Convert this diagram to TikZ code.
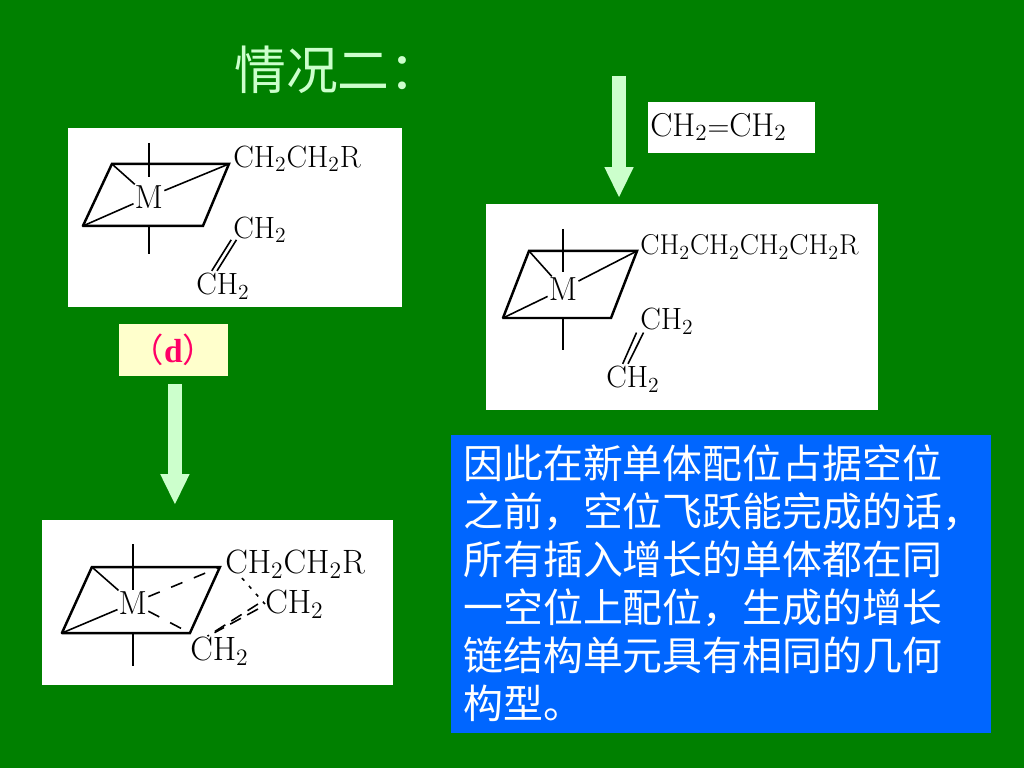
\documentclass[tikz,border=0pt]{standalone}
\usepackage{fontspec}
\newfontfamily\cjk{Noto Sans CJK SC}
\newfontfamily\serifbold{Liberation Serif}
\usetikzlibrary{arrows.meta}

\definecolor{slidegreen}{HTML}{008000}
\definecolor{palegreen}{HTML}{CCFFCC}
\definecolor{paleyellow}{HTML}{FFFFCC}
\definecolor{textblue}{HTML}{0066FF}
\definecolor{labelred}{HTML}{FF0066}

\begin{document}
\begin{tikzpicture}[
    x=0.02cm, y=-0.02cm,
    whitebox/.style={fill=white, inner sep=0pt},
    chem/.style={anchor=west, inner sep=0pt, font=\fontsize{#1}{#1}\selectfont},
    metal/.style={inner sep=0.5pt, font=\fontsize{19}{19}\selectfont},
    bond/.style={line width=1.4pt, line cap=round},
    thinbond/.style={line width=0.9pt},
    dashbond/.style={line width=0.9pt, dash pattern=on 7pt off 7pt},
    blockarrow/.style={line width=7.9pt, draw=palegreen, -{Triangle[length=17.6pt, width=15.3pt, fill=palegreen]}}
]
    % Background
    \node[fill=slidegreen, minimum width=20.48cm, minimum height=15.36cm, inner sep=0pt] (page) at (512,384) {};

    % Title
    \node[inner sep=0pt, text=palegreen, font=\cjk\fontsize{29.5}{29.5}\selectfont, anchor=west] (title) at (234,70) {情况二：};

    % White panels
    \node[whitebox, minimum width=334*0.02cm, minimum height=179*0.02cm] (panelA) at (235,217.5) {};
    \node[whitebox, minimum width=392*0.02cm, minimum height=206*0.02cm] (panelB) at (682,307) {};
    \node[whitebox, minimum width=351*0.02cm, minimum height=165*0.02cm] (panelC) at (217.5,602.5) {};
    \node[whitebox, minimum width=167*0.02cm, minimum height=51*0.02cm] (monobox) at (731.5,127.5) {};

    % Monomer label
    \node[chem=18.8] (mono) at (650,127) {$\mathrm{CH_2{=}CH_2}$};

    % Label d
    \node[fill=paleyellow, minimum width=109*0.02cm, minimum height=52*0.02cm, inner sep=0pt, text=labelred, font=\fontsize{19}{19}\selectfont] (labeld) at (173.5,350) {{\cjk（}{\serifbold\bfseries d}{\cjk）}};

    % Block arrows
    \coordinate (arrowAs) at (175,384);
    \coordinate (arrowAe) at (175,505);
    \coordinate (arrowBs) at (619,76);
    \coordinate (arrowBe) at (619,198);
    \draw[blockarrow] (arrowAs) -- (arrowAe);
    \draw[blockarrow] (arrowBs) -- (arrowBe);

    % Complex A
    \coordinate (aTL) at (112,164);
    \coordinate (aTR) at (229,164);
    \coordinate (aBR) at (203,226);
    \coordinate (aBL) at (83,226);
    \coordinate (aUp) at (149,143);
    \coordinate (aUe) at (149,177);
    \coordinate (aDs) at (149,226);
    \coordinate (aDn) at (149,254);
    \node[metal] (aM) at (149,197) {M};
    \draw[bond] (aBL) -- (aTL) -- (aTR) -- (aBR) -- (aBL);
    \draw[thinbond] (aUp) -- (aUe);
    \draw[thinbond] (aDs) -- (aDn);
    \foreach \c in {aTL,aTR,aBL}
        \draw[thinbond] (\c) -- (aM);
    \node[chem=17.5] (aChain) at (233,159) {$\mathrm{CH_2CH_2R}$};
    \node[chem=17.5] (aCa) at (233,230) {$\mathrm{CH_2}$};
    \node[chem=17.5] (aCb) at (196,286) {$\mathrm{CH_2}$};
    \draw[thinbond] ([xshift=-1pt,yshift=2pt]aCa.south west) -- ([xshift=9pt,yshift=1pt]aCb.north west);
    \draw[thinbond] ([xshift=2pt,yshift=2pt]aCa.south west) -- ([xshift=12pt,yshift=1pt]aCb.north west);

    % Complex B
    \coordinate (bTL) at (529,251);
    \coordinate (bTR) at (637,251);
    \coordinate (bBR) at (611,318);
    \coordinate (bBL) at (503,318);
    \coordinate (bUp) at (563,229);
    \coordinate (bUe) at (563,272);
    \coordinate (bDs) at (563,318);
    \coordinate (bDn) at (563,350);
    \node[metal] (bM) at (563,289) {M};
    \draw[bond] (bBL) -- (bTL) -- (bTR) -- (bBR) -- (bBL);
    \draw[thinbond] (bUp) -- (bUe);
    \draw[thinbond] (bDs) -- (bDn);
    \foreach \c in {bTL,bTR,bBL}
        \draw[thinbond] (\c) -- (bM);
    \node[chem=16.3] (bChain) at (640,247) {$\mathrm{CH_2CH_2CH_2CH_2R}$};
    \node[chem=17.5] (bCa) at (640,321) {$\mathrm{CH_2}$};
    \node[chem=17.5] (bCb) at (606,379) {$\mathrm{CH_2}$};
    \draw[thinbond] ([xshift=-2pt,yshift=1pt]bCa.south west) -- ([xshift=9.5pt,yshift=1pt]bCb.north west);
    \draw[thinbond] ([xshift=2pt,yshift=1pt]bCa.south west) -- ([xshift=12.5pt,yshift=1pt]bCb.north west);

    % Complex C
    \coordinate (cTL) at (92,567);
    \coordinate (cTR) at (220,567);
    \coordinate (cBR) at (190,633);
    \coordinate (cBL) at (62,633);
    \coordinate (cUp) at (133,544);
    \coordinate (cUe) at (133,590);
    \coordinate (cDs) at (133,633);
    \coordinate (cDn) at (133,666);
    \node[metal] (cM) at (133,603) {M};
    \draw[bond] (cBL) -- (cTL) -- (cTR) -- (cBR) -- (cBL);
    \draw[thinbond] (cUp) -- (cUe);
    \draw[thinbond] (cDs) -- (cDn);
    \draw[thinbond] (cTL) -- (cM);
    \draw[thinbond] (cBL) -- (cM);
    \draw[dashbond] (cM) -- (cTR);
    \draw[dashbond] (cM) -- (cBR);
    \node[chem=19.2] (cChain) at (225,564) {$\mathrm{CH_2CH_2R}$};
    \node[chem=19.2] (cCa) at (265,604) {$\mathrm{CH_2}$};
    \node[chem=19.2] (cCb) at (190,651) {$\mathrm{CH_2}$};
    \draw[thinbond, dash pattern=on 2pt off 4pt] (cTR) ++(22,11) -- (cCa.west);
    \draw[dashbond, dash pattern=on 7pt off 4pt] (cCa.west) ++(-7,0) -- ([xshift=10pt]cCb.north west);
    \draw[dashbond, dash pattern=on 7pt off 4pt] (cCa.west) ++(-7,5) -- ([xshift=14pt,yshift=2pt]cCb.north west);

    % Explanation
    \node[fill=textblue, minimum width=540*0.02cm, minimum height=298*0.02cm, inner sep=0pt] (bluebox) at (721,584) {};
    \node[anchor=north west, inner sep=0pt, align=left, text=white, font=\cjk\fontsize{22.7}{27.3}\selectfont] (explain) at (463,444) {因此在新单体配位占据空位\\之前，空位飞跃能完成的话，\\所有插入增长的单体都在同\\一空位上配位，生成的增长\\链结构单元具有相同的几何\\构型。};
\end{tikzpicture}
\end{document}
